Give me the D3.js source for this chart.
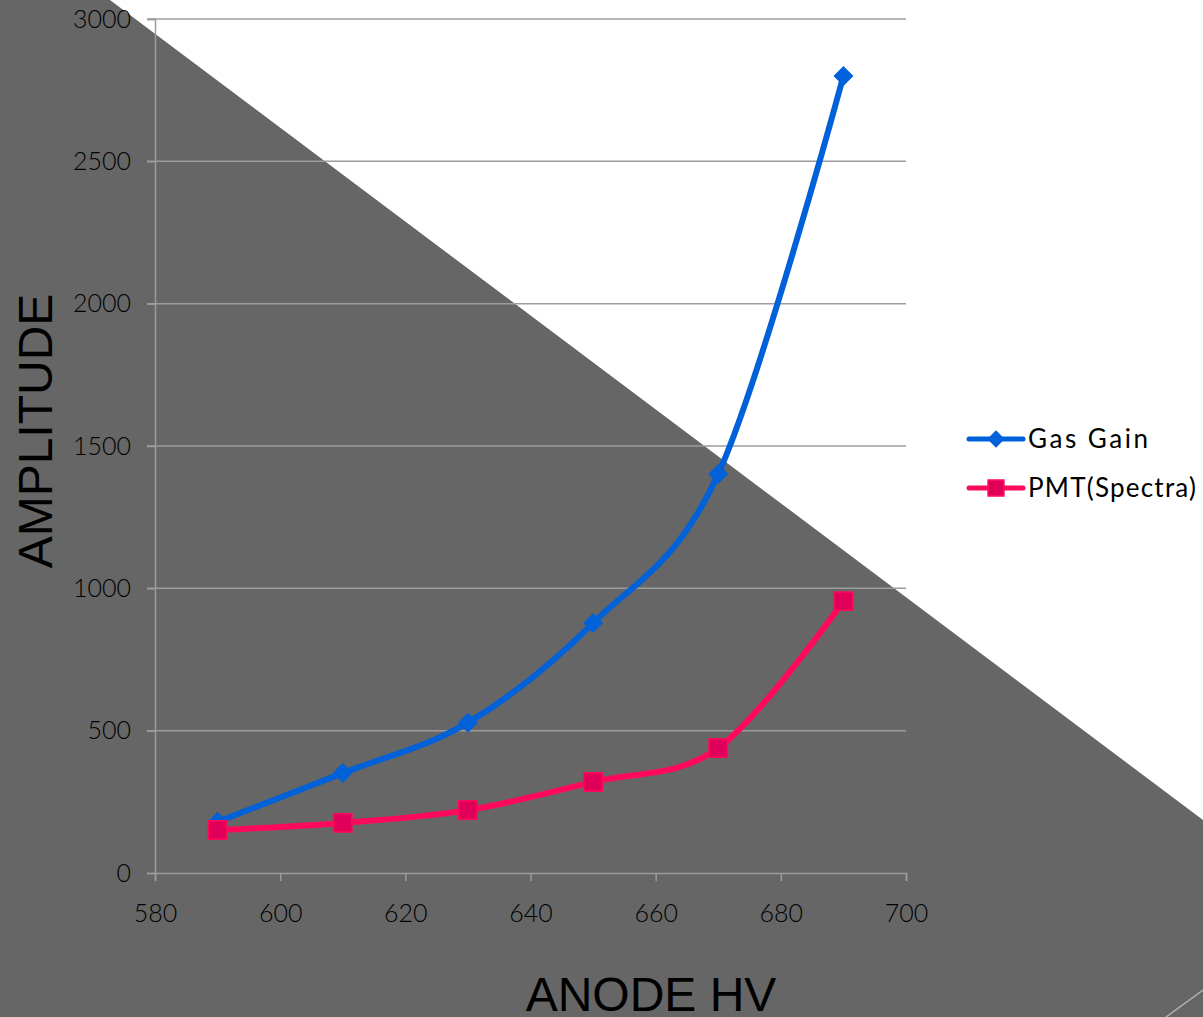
<!DOCTYPE html>
<html>
<head>
<meta charset="utf-8">
<script src="https://cdn.jsdelivr.net/npm/d3@7"></script>
<style>
  html, body { margin: 0; padding: 0; background: #fff; }
  svg { display: block; }
</style>
</head>
<body>
<script>
// Anode high voltage settings (x) and measured amplitudes (y)
const anodeHV = [590, 610, 630, 650, 670, 690];
const gasGain = [180, 351, 528, 878, 1402, 2800];
const pmtSpectra = [151, 176, 221, 320, 439, 955];
const xTicks = [580, 600, 620, 640, 660, 680, 700];
const yTicks = [0, 500, 1000, 1500, 2000, 2500, 3000];
const seriesNames = ["Gas Gain", "PMT(Spectra)"];

const W = 1203, H = 1017;
const svg = d3.select("body").append("svg").attr("width", W).attr("height", H);

// slide backdrop: white with a dark diagonal wedge
svg.append("rect").attr("width", W).attr("height", H).attr("fill", "#ffffff");
svg.append("polygon")
  .attr("points", [[0,0],[110,0],[1203,820],[1203,1017],[0,1017]].map(p => p.join(",")).join(" "))
  .attr("fill", "#666666");
svg.append("line")
  .attr("x1", 1166).attr("y1", 1017).attr("x2", 1203).attr("y2", 990)
  .attr("stroke", "#b0b0b0").attr("stroke-width", 1.5);

const x = d3.scaleLinear().domain([580, 700]).range([155, 906]);
const y = d3.scaleLinear().domain([0, 3000]).range([873, 19]);

const tickFont = "'Century Gothic', 'URW Gothic', Lato, sans-serif";
const gridColor = "#9c9c9c";

// horizontal gridlines
svg.append("g").selectAll("line").data(yTicks.filter(d => d > 0)).join("line")
  .attr("x1", 147).attr("x2", 906)
  .attr("y1", d => y(d)).attr("y2", d => y(d))
  .attr("stroke", gridColor).attr("stroke-width", 1.5);

// y axis
const yAxis = svg.append("g").attr("transform", "translate(155,0)")
  .call(d3.axisLeft(y).tickValues(yTicks).tickSize(8).tickPadding(16).tickFormat(d3.format("d")));
yAxis.select(".domain").attr("stroke", gridColor).attr("stroke-width", 1.5);
yAxis.selectAll(".tick line").attr("stroke", gridColor).attr("stroke-width", 1.5);
yAxis.selectAll("text").attr("font-family", tickFont).attr("font-size", 25)
  .attr("font-weight", 300).attr("fill", "#000");

// x axis
const xAxis = svg.append("g").attr("transform", "translate(0,873)")
  .call(d3.axisBottom(x).tickValues(xTicks).tickSize(8).tickPadding(23).tickFormat(d3.format("d")));
xAxis.select(".domain").attr("stroke", gridColor).attr("stroke-width", 1.5);
xAxis.selectAll(".tick line").attr("stroke", gridColor).attr("stroke-width", 1.5);
xAxis.selectAll("text").attr("font-family", tickFont).attr("font-size", 25)
  .attr("font-weight", 300).attr("fill", "#000");

// axis titles
svg.append("text")
  .attr("transform", "translate(52,431) rotate(-90)")
  .attr("text-anchor", "middle")
  .attr("font-family", "'Liberation Sans', Arial, sans-serif")
  .attr("font-size", 48).attr("fill", "#000")
  .text("AMPLITUDE");
svg.append("text")
  .attr("x", 651).attr("y", 1011)
  .attr("text-anchor", "middle")
  .attr("font-family", "'Liberation Sans', Arial, sans-serif")
  .attr("font-size", 48).attr("fill", "#000")
  .text("ANODE HV");

const line = d3.line().x(d => x(d[0])).y(d => y(d[1])).curve(d3.curveCatmullRom.alpha(0));

const blue = "#0061d9", pinkLine = "#ff0a5a", pinkFill = "#e0005a";
const gasPts = anodeHV.map((v, i) => [v, gasGain[i]]);
const pmtPts = anodeHV.map((v, i) => [v, pmtSpectra[i]]);

svg.append("path").datum(gasPts).attr("d", line)
  .attr("fill", "none").attr("stroke", blue).attr("stroke-width", 6).attr("stroke-linejoin", "round");
svg.append("path").datum(pmtPts).attr("d", line)
  .attr("fill", "none").attr("stroke", pinkLine).attr("stroke-width", 6).attr("stroke-linejoin", "round");

const diamond = d3.symbol().type(d3.symbolSquare).size(200);
const square = d3.symbol().type(d3.symbolSquare).size(340);

function drawDiamond(g, cx, cy) {
  g.append("path").attr("d", diamond)
    .attr("transform", `translate(${cx},${cy}) rotate(45)`)
    .attr("fill", blue);
}
function drawSquare(g, cx, cy) {
  g.append("path").attr("d", square)
    .attr("transform", `translate(${cx},${cy})`)
    .attr("fill", pinkFill).attr("stroke", pinkLine).attr("stroke-width", 1.5);
}

const gm = svg.append("g");
gasPts.forEach(p => drawDiamond(gm, x(p[0]), y(p[1])));
const pm = svg.append("g");
pmtPts.forEach(p => drawSquare(pm, x(p[0]), y(p[1])));

// legend
const legend = svg.append("g");
const legendRows = [
  { name: seriesNames[0], color: blue, y: 439, square: false, width: 120 },
  { name: seriesNames[1], color: pinkLine, y: 488, square: true, width: 168 }
];
legendRows.forEach(r => {
  legend.append("line").attr("x1", 969).attr("x2", 1023).attr("y1", r.y).attr("y2", r.y)
    .attr("stroke", r.color).attr("stroke-width", 5).attr("stroke-linecap", "round");
  if (r.square) {
    legend.append("path").attr("d", d3.symbol().type(d3.symbolSquare).size(250))
      .attr("transform", `translate(996,${r.y})`)
      .attr("fill", pinkFill).attr("stroke", pinkLine).attr("stroke-width", 1.5);
  } else {
    legend.append("path").attr("d", d3.symbol().type(d3.symbolSquare).size(150))
      .attr("transform", `translate(996,${r.y}) rotate(45)`).attr("fill", blue);
  }
  legend.append("text").attr("x", 1028).attr("y", r.y + 9)
    .attr("font-family", tickFont).attr("font-size", 26)
    .attr("textLength", r.width).attr("lengthAdjust", "spacing")
    .attr("fill", "#000")
    .text(r.name);
});
</script>
</body>
</html>
